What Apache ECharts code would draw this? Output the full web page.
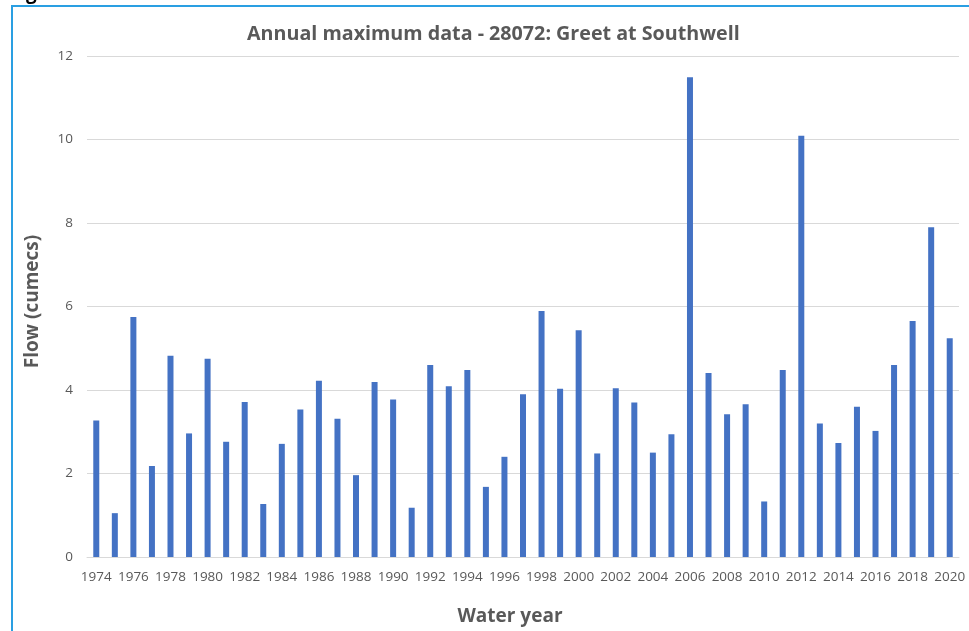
<!DOCTYPE html>
<html>
<head>
<meta charset="utf-8">
<script src="https://cdn.jsdelivr.net/npm/echarts@6/dist/echarts.min.js"></script>
<style>
  html, body { margin: 0; padding: 0; background: #fff; }
  #chart { width: 969px; height: 631px; }
</style>
</head>
<body>
<div id="chart"></div>
<script>
const years = [
  '1974','1975','1976','1977','1978','1979','1980','1981','1982','1983',
  '1984','1985','1986','1987','1988','1989','1990','1991','1992','1993',
  '1994','1995','1996','1997','1998','1999','2000','2001','2002','2003',
  '2004','2005','2006','2007','2008','2009','2010','2011','2012','2013',
  '2014','2015','2016','2017','2018','2019','2020'
];
const flow = [
  3.27, 1.05, 5.75, 2.18, 4.82, 2.96, 4.75, 2.76, 3.71, 1.27,
  2.71, 3.53, 4.22, 3.31, 1.96, 4.19, 3.77, 1.18, 4.60, 4.09,
  4.48, 1.68, 2.40, 3.90, 5.89, 4.03, 5.43, 2.48, 4.04, 3.70,
  2.50, 2.94, 11.49, 4.41, 3.42, 3.66, 1.33, 4.48, 10.09, 3.20,
  2.73, 3.60, 3.02, 4.60, 5.65, 7.90, 5.24
];
const yTicks = { min: 0, max: 12, interval: 2 };
const titleText = 'Annual maximum data - 28072: Greet at Southwell';
const xName = 'Water year';
const yName = 'Flow (cumecs)';

const FONT = "'Open Sans', 'Noto Sans', sans-serif";
const GREY = '#595959';

const chart = echarts.init(document.getElementById('chart'), null, { renderer: 'canvas' });
chart.setOption({
  backgroundColor: '#ffffff',
  animation: false,
  title: {
    text: titleText,
    left: 247,
    top: 24,
    padding: 0,
    textStyle: { fontFamily: FONT, fontSize: 19.7, fontWeight: 'bold', color: GREY }
  },
  graphic: [
    {
      type: 'rect',
      shape: { x: 12, y: 6, width: 1000, height: 700 },
      style: { fill: 'none', stroke: '#2a9fe2', lineWidth: 2 },
      silent: true
    },
    {
      type: 'text',
      left: 26, top: -16,
      style: { text: 'g', font: "bold 19px 'Open Sans', sans-serif", fill: '#000' },
      silent: true
    }
  ],
  grid: { left: 87, right: 10, top: 56, bottom: 72, containLabel: false },
  xAxis: {
    type: 'category',
    data: years,
    name: xName,
    nameLocation: 'middle',
    nameGap: 50,
    nameTextStyle: { fontFamily: FONT, fontSize: 19, fontWeight: 'bold', color: GREY, padding: [0, 26, 0, 0] },
    axisLine: { lineStyle: { color: '#d9d9d9', width: 1 } },
    axisTick: { show: false },
    axisLabel: { interval: 1, fontFamily: FONT, fontSize: 13.5, color: GREY, margin: 13 },
    splitLine: { show: false }
  },
  yAxis: {
    type: 'value',
    min: yTicks.min,
    max: yTicks.max,
    interval: yTicks.interval,
    name: yName,
    nameLocation: 'middle',
    nameGap: 45,
    nameRotate: 90,
    nameTextStyle: { fontFamily: FONT, fontSize: 19, fontWeight: 'bold', color: GREY, padding: [0, 0, 0, 10] },
    axisLine: { show: false },
    axisTick: { show: false },
    axisLabel: { fontFamily: FONT, fontSize: 13.5, color: GREY, margin: 14 },
    splitLine: { lineStyle: { color: '#d9d9d9', width: 1 } }
  },
  series: [{
    type: 'bar',
    data: flow,
    barWidth: 6,
    itemStyle: { color: '#4472c4' }
  }]
});
</script>
</body>
</html>
